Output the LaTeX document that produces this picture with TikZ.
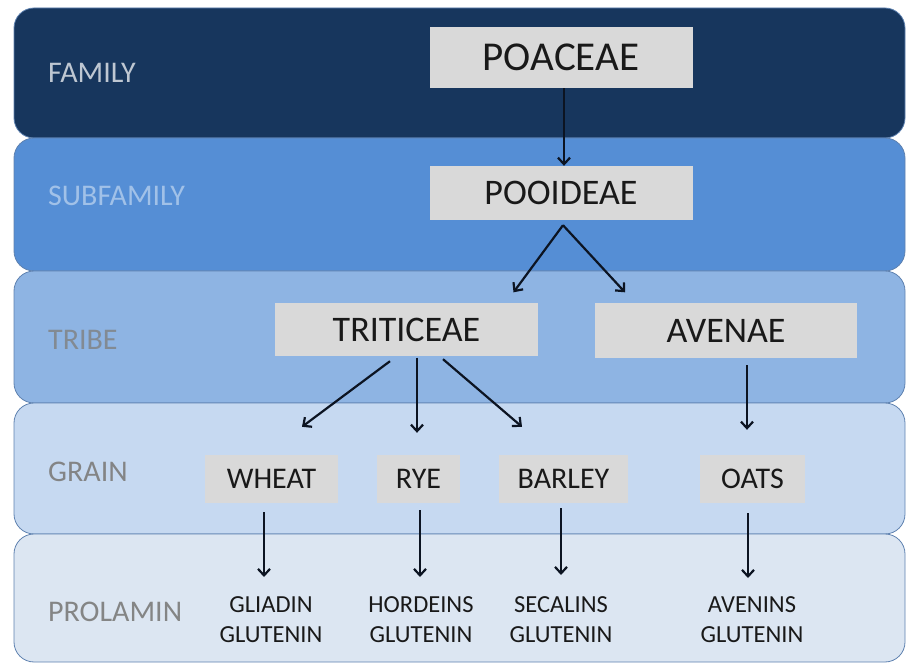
\documentclass[tikz,border=0pt]{standalone}
\usepackage{fontspec}
\setmainfont{Carlito}
\usetikzlibrary{arrows.meta, positioning}

\definecolor{famblue}{HTML}{17365D}
\definecolor{subblue}{HTML}{558ED5}
\definecolor{tribeblue}{HTML}{8EB4E3}
\definecolor{grainblue}{HTML}{C6D9F1}
\definecolor{prolblue}{HTML}{DCE6F2}
\definecolor{bandline}{HTML}{5F82B0}
\definecolor{boxgray}{HTML}{D9D9D9}
\definecolor{arrowink}{HTML}{0C1422}

\begin{document}
\begin{tikzpicture}[
			x=1pt, y=-1pt,
			band/.style={draw=bandline, line width=0.8pt, rounded corners=20pt},
			rank/.style={anchor=west, inner sep=0pt, font=\fontsize{30}{36}\selectfont},
			taxon/.style={
				fill=boxgray,
				rectangle,
				inner sep=0pt,
				text=black!90,
				align=center
			},
			bigtaxon/.style={taxon, font=\fontsize{36}{42}\selectfont, minimum height=53pt},
			graintaxon/.style={taxon, font=\fontsize{30}{36}\selectfont, minimum height=48pt},
			protein/.style={anchor=north, inner sep=0pt, align=center, text=black!90, font=\fontsize{24.5}{30}\selectfont},
			arrow/.style={-{Straight Barb[length=6.5pt, width=12pt]}, line width=2.2pt, color=arrowink}
			]
			\useasboundingbox (0,0) rectangle (906,663);
			
			% -------- Bands --------
			\draw[band, fill=famblue]   (14,8)   rectangle (905,138);
			\draw[band, fill=subblue]   (14,138) rectangle (905,271);
			\draw[band, fill=tribeblue] (14,271) rectangle (905,403);
			\draw[band, fill=grainblue] (14,403) rectangle (905,534);
			\draw[band, fill=prolblue]  (14,534) rectangle (905,662);
			
			\node[rank, text=white!72!famblue]  (lfam)   at (48,73)  {FAMILY};
			\node[rank, text=white!45!subblue]  (lsub)   at (48,196) {SUBFAMILY};
			\node[rank, text=gray!80!tribeblue] (ltribe) at (48,340) {TRIBE};
			\node[rank, text=gray!95!grainblue] (lgrain) at (48,472) {GRAIN};
			\node[rank, text=gray!95!prolblue]  (lprol)  at (48,612) {PROLAMIN};
			
			% -------- Taxa --------
			\node[taxon, font=\fontsize{41}{48}\selectfont, minimum width=263pt, minimum height=61pt] (poaceae) at (561,57.5) {POACEAE};
			\node[bigtaxon, minimum width=263pt, minimum height=54pt] (pooideae) at (561,193) {POOIDEAE};
			\node[bigtaxon, minimum width=263pt] (triticeae) at (406.5,330) {TRITICEAE};
			\node[bigtaxon, minimum width=262pt, minimum height=55pt] (avenae) at (726,331) {AVENAE};
			
			\node[graintaxon, minimum width=133pt] (wheat)  at (271.5,479) {WHEAT};
			\node[graintaxon, minimum width=83pt]  (rye)    at (418.5,479) {RYE};
			\node[graintaxon, minimum width=129pt] (barley) at (563.5,479) {BARLEY};
			\node[graintaxon, minimum width=105pt] (oats)   at (752.5,479) {OATS};
			
			\node[protein] (gliadin)  at (271,596) {GLIADIN\\GLUTENIN};
			\node[protein] (hordeins) at (421,596) {HORDEINS\\GLUTENIN};
			\node[protein] (secalins) at (561,596) {SECALINS\\GLUTENIN};
			\node[protein] (avenins)  at (752,596) {AVENINS\\GLUTENIN};
			
			% -------- Arrows --------
			\draw[arrow] ([xshift=3pt]poaceae.south) -- ([xshift=3pt]pooideae.north);
			
			\draw[arrow] ([xshift=2pt, yshift=-5pt]pooideae.south) -- ([xshift=107pt, yshift=11pt]triticeae.north);
			\draw[arrow] ([xshift=2pt, yshift=-5pt]pooideae.south) -- ([xshift=-101pt, yshift=11pt]avenae.north);
			
			\draw[arrow] ([xshift=-16.5pt, yshift=-4.5pt]triticeae.south) -- ([xshift=30.5pt, yshift=28pt]wheat.north);
			\draw[arrow] ([xshift=10.5pt, yshift=-1pt]triticeae.south) -- ([xshift=-1.5pt, yshift=22pt]rye.north);
			\draw[arrow] ([xshift=36.5pt, yshift=-2.5pt]triticeae.south) -- ([xshift=-41.5pt, yshift=28pt]barley.north);
			\draw[arrow] ([xshift=21pt, yshift=-6.5pt]avenae.south) -- ([xshift=-5.5pt, yshift=25pt]oats.north);
			
			\draw[arrow] ([xshift=-7.5pt, yshift=-9pt]wheat.south) -- ([xshift=-7pt, yshift=19pt]gliadin.north);
			\draw[arrow] ([xshift=1.5pt, yshift=-7pt]rye.south) -- ([xshift=-1pt, yshift=19pt]hordeins.north);
			\draw[arrow] ([xshift=-2.5pt, yshift=-5pt]barley.south) -- ([yshift=21pt]secalins.north);
			\draw[arrow] ([xshift=-4.5pt, yshift=-10pt]oats.south) -- ([xshift=-4pt, yshift=18pt]avenins.north);
			
	\end{tikzpicture}
\end{document}
